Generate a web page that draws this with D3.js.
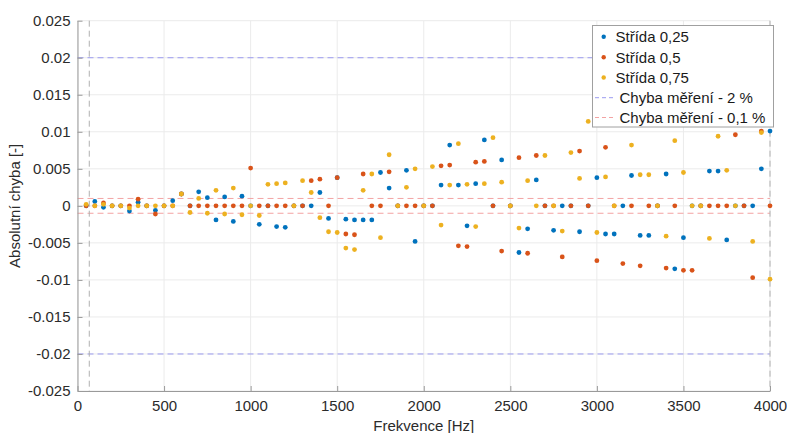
<!DOCTYPE html>
<html><head><meta charset="utf-8">
<script src="https://cdn.jsdelivr.net/npm/d3@7"></script>
<style>
body{margin:0;background:#fff;}
text{font-family:"Liberation Sans",Arial,sans-serif;}
</style></head>
<body><svg id="c" width="787" height="433"></svg>
<script>
const frequencies = [50,100,150,200,250,300,350,400,450,500,550,600,650,700,750,800,850,900,950,1000,
1050,1100,1150,1200,1250,1300,1350,1400,1450,1500,1550,1600,1650,1700,1750,1800,1850,1900,1950,2000,
2050,2100,2150,2200,2250,2300,2350,2400,2450,2500,2550,2600,2650,2700,2750,2800,2850,2900,2950,3000,
3050,3100,3150,3200,3250,3300,3350,3400,3450,3500,3550,3600,3650,3700,3750,3800,3850,3900,3950,4000];

const strida025 = [0,0.0006,-0.0002,0,0,-0.0007,0.0005,0,-0.0006,0,
0.0007,0.0016,0,0.0019,0.0011,-0.0019,0.0012,-0.0021,0.0013,0,
-0.0025,0,-0.0028,-0.0029,0,0,0,0.0018,-0.0017,0.0038,
-0.0018,-0.0019,-0.0019,-0.0019,0.0045,0.0024,0,0.0048,-0.0048,0,
0,0.0028,0.0082,0.0028,-0.0027,0.003,0.0089,0,0.0062,0,
-0.0063,-0.0031,0.0035,0,-0.0033,0,0,-0.0035,0,0.0038,
-0.0038,-0.0038,0,0.0041,-0.004,-0.004,0,0.0043,-0.0085,-0.0043,
0,0,0.0047,0.0047,-0.0046,0,0,0,0.005,0.0101];

const strida05 = [0,0,0.0004,0,0,0,0.0009,0,-0.0011,0,
0,0.0016,0,0,0,0,0,0,0,0.0051,
0,0,0,0,0,0,0.0034,0.0036,0,0.0038,
-0.0038,-0.0039,0.0043,0,0,0.0046,0,0,0,0,
0,0.0054,0.0055,-0.0054,-0.0055,0.0059,0.006,0,-0.0061,0,
0.0065,-0.0064,0.0068,0,0,-0.0069,0,0.0074,0,-0.0074,
0.0079,0,-0.0078,0,-0.0081,0,0,-0.0084,0,-0.0087,
-0.0087,0,0,0,0,0.0096,0,-0.0097,0.0101,0];

const strida075 = [0.0002,0,0.0002,0,0,-0.0003,0,0,0,0,
0,0.0016,-0.0009,0.001,-0.001,0.0021,-0.0011,0.0024,-0.0012,0,
-0.0013,0.0029,0.003,0.0031,0,0.0034,0.0018,-0.0016,-0.0035,-0.0036,
-0.0057,-0.0059,0.0021,0.0043,-0.0043,0.0069,0,0.0025,0.005,0,
0.0053,-0.0026,0.0028,0.0084,0.0029,-0.0028,0.003,0.0092,0.0032,0,
-0.003,0.0034,0,0.0068,0,-0.0034,0.0072,0.0037,0.0114,-0.0036,
0.0039,0,0.0118,0.0082,0.0042,0.0042,0,-0.0041,0.0088,0.0045,
0,0,-0.0044,0.0094,0.0048,0,0.0135,-0.0048,0.0099,-0.0099];

const seriesNames = ["Střída 0,25","Střída 0,5","Střída 0,75"];
const seriesColors = ["#0072BD","#D95319","#EDB120"];
const limitNames = ["Chyba měření - 2 %","Chyba měření - 0,1 %"];
const limitValues = [0.02, 0.001];
const limitColors = ["#9c9cf0","#f3a3a3"];
const rangeLimits = [68, 4000];
const xTicks = [0,500,1000,1500,2000,2500,3000,3500,4000];
const xTickLabels = ["0","500","1000","1500","2000","2500","3000","3500","4000"];
const yTicks = [0.025,0.02,0.015,0.01,0.005,0,-0.005,-0.01,-0.015,-0.02,-0.025];
const yTickLabels = ["0.025","0.02","0.015","0.01","0.005","0","-0.005","-0.01","-0.015","-0.02","-0.025"];

const svg = d3.select("#c");
const L=77.5, R=770, T=20.7, B=391;
const x = d3.scaleLinear().domain([0,4000]).range([L,R]);
const y = d3.scaleLinear().domain([-0.025,0.025]).range([B,T]);

// grid
const g = svg.append("g");
g.selectAll(".gx").data(xTicks).enter().append("line")
 .attr("x1",d=>x(d)).attr("x2",d=>x(d)).attr("y1",T).attr("y2",B)
 .attr("stroke","#ebebeb").attr("stroke-width",1);
g.selectAll(".gy").data(yTicks).enter().append("line")
 .attr("y1",d=>y(d)).attr("y2",d=>y(d)).attr("x1",L).attr("x2",R)
 .attr("stroke","#ebebeb").attr("stroke-width",1);

// limit lines
limitValues.forEach((v,i)=>{
  [v,-v].forEach(vv=>{
    svg.append("line").attr("x1",L).attr("x2",R).attr("y1",y(vv)).attr("y2",y(vv))
     .attr("stroke",limitColors[i]).attr("stroke-width",1).attr("stroke-dasharray","6,4");
  });
});
rangeLimits.forEach(f=>{
  svg.append("line").attr("x1",x(f)).attr("x2",x(f)).attr("y1",T).attr("y2",B)
   .attr("stroke","#b0b0b0").attr("stroke-width",1).attr("stroke-dasharray","6,4");
});

// axes
const xAxis = d3.axisBottom(x).tickValues(xTicks).tickFormat((d,i)=>xTickLabels[i]).tickSizeInner(-5).tickSizeOuter(0).tickPadding(9);
const yAxis = d3.axisLeft(y).tickValues(yTicks).tickFormat((d,i)=>yTickLabels[i]).tickSizeInner(-5).tickSizeOuter(0).tickPadding(7);
const gx = svg.append("g").attr("transform",`translate(0,${B})`).call(xAxis);
const gy = svg.append("g").attr("transform",`translate(${L},0)`).call(yAxis);
[gx,gy].forEach(a=>{
  a.select(".domain").attr("stroke","#9a9a9a");
  a.selectAll(".tick line").attr("stroke","#9a9a9a");
  a.selectAll(".tick text").attr("fill","#2b2b2b").attr("font-size","15px")
   .style("font-family","'Liberation Sans',Arial,sans-serif");
});

// points
const allSeries=[strida025,strida05,strida075];
allSeries.forEach((s,i)=>{
  svg.append("g").selectAll("circle").data(s).enter().append("circle")
   .attr("cx",(d,j)=>x(frequencies[j])).attr("cy",d=>y(d)).attr("r",2.4)
   .attr("fill",seriesColors[i]);
});

// axis labels
svg.append("text").attr("x",(L+R)/2).attr("y",431).attr("text-anchor","middle")
 .attr("font-size","15px").attr("fill","#2b2b2b").text("Frekvence [Hz]");
svg.append("text").attr("transform",`translate(20,${(T+B)/2}) rotate(-90)`).attr("text-anchor","middle")
 .attr("font-size","15px").attr("fill","#2b2b2b").text("Absolutní chyba [-]");

// legend
const lg = svg.append("g");
lg.append("rect").attr("x",592.5).attr("y",25.5).attr("width",181).attr("height",101.5)
 .attr("fill","#fff").attr("stroke","#a0a0a0").attr("stroke-width",1);
const rowY=[36.7,57.3,77.5,97.7,117.5];
seriesNames.forEach((n,i)=>{
  lg.append("circle").attr("cx",603.7).attr("cy",rowY[i]).attr("r",2.2).attr("fill",seriesColors[i]);
  lg.append("text").attr("x",615.5).attr("y",rowY[i]+5.3).attr("font-size","15px").attr("fill","#1a1a1a").text(n);
});
limitNames.forEach((n,i)=>{
  const yy=rowY[3+i];
  lg.append("line").attr("x1",595).attr("x2",613).attr("y1",yy).attr("y2",yy)
   .attr("stroke",limitColors[i]).attr("stroke-width",1).attr("stroke-dasharray","4,3");
  lg.append("text").attr("x",619.5).attr("y",yy+5.3).attr("font-size","15px").attr("fill","#1a1a1a").text(n);
});
</script></body></html>
